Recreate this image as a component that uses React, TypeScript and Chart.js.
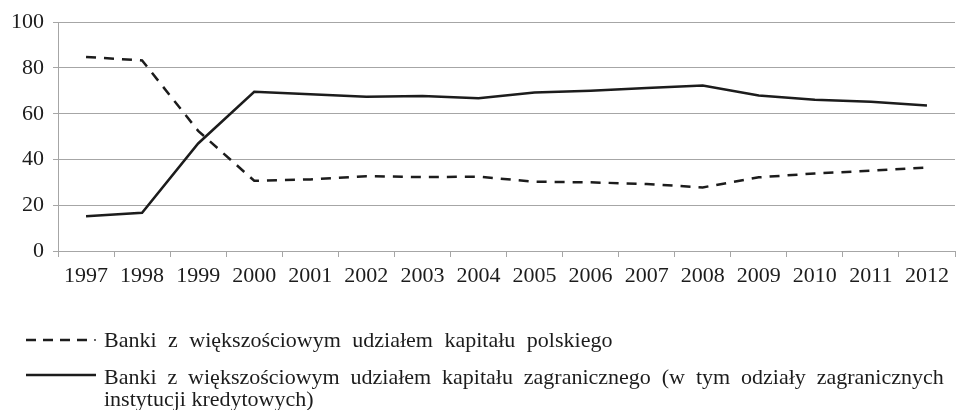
import React, { useEffect, useRef } from "react";
import { Chart, registerables } from "chart.js";

Chart.register(...registerables);

const years = ["1997","1998","1999","2000","2001","2002","2003","2004","2005","2006","2007","2008","2009","2010","2011","2012"];
const polishCapital = [84.8, 83.3, 52.5, 30.7, 31.3, 32.7, 32.3, 32.5, 30.3, 30.0, 29.3, 27.8, 32.2, 33.9, 35.1, 36.5];
const foreignCapital = [15.2, 16.7, 47.0, 69.6, 68.5, 67.4, 67.7, 66.8, 69.3, 70.0, 71.2, 72.3, 68.0, 66.1, 65.2, 63.6];
const yTicks = [0, 20, 40, 60, 80, 100];
const legendPolish = "Banki z większościowym udziałem kapitału polskiego";
const legendForeign1 = "Banki z większościowym udziałem kapitału zagranicznego (w tym odziały zagranicznych";
const legendForeign2 = "instytucji kredytowych)";

const FONT = "'Liberation Serif', 'Times New Roman', serif";
const INK = "#1c1c1c";

export default function App() {
  const ref = useRef<HTMLCanvasElement | null>(null);
  useEffect(() => {
    if (!ref.current) return;
    const chart = new Chart(ref.current, {
      type: "line",
      data: {
        labels: years,
        datasets: [
          {
            label: legendPolish,
            data: polishCapital,
            borderColor: INK,
            borderWidth: 2.5,
            borderDash: [10, 8],
            pointRadius: 0,
            tension: 0,
            fill: false,
          },
          {
            label: legendForeign1,
            data: foreignCapital,
            borderColor: INK,
            borderWidth: 2.5,
            pointRadius: 0,
            tension: 0,
            fill: false,
          },
        ],
      },
      options: {
        animation: false,
        responsive: false,
        maintainAspectRatio: false,
        layout: { autoPadding: false, padding: { top: 21, right: 2, left: 0, bottom: 0 } } as any,
        plugins: { legend: { display: false }, tooltip: { enabled: false } },
        scales: {
          x: {
            offset: true,
            grid: { offset: true, drawOnChartArea: false, drawTicks: true, tickLength: 6, color: "#a6a6a6" },
            border: { color: "#a6a6a6", width: 1 },
            ticks: { color: INK, font: { family: FONT, size: 22 }, padding: 6, maxRotation: 0, autoSkip: false },
            afterFit: (s: any) => { s.height = 300 - 251; },
          },
          y: {
            min: 0,
            max: 100,
            afterBuildTicks: (s: any) => { s.ticks = yTicks.map((v) => ({ value: v })); },
            grid: { color: "#a6a6a6", lineWidth: 1, drawTicks: true, tickLength: 5 },
            border: { color: "#a6a6a6", width: 1 },
            ticks: { color: INK, font: { family: FONT, size: 22 }, padding: 9 },
            afterFit: (s: any) => { s.width = 58; },
          },
        },
      },
    });
    return () => chart.destroy();
  }, []);

  const textStyle: React.CSSProperties = {
    position: "absolute",
    left: 104,
    fontFamily: FONT,
    fontSize: 22,
    color: INK,
    whiteSpace: "nowrap",
    lineHeight: "22px",
  };

  return (
    <div style={{ position: "fixed", left: 0, top: 0, width: 957, height: 410, background: "#fff", overflow: "hidden" }}>
      <canvas ref={ref} width={957} height={300} style={{ position: "absolute", left: 0, top: 0, width: 957, height: 300 }} />
      <svg width={110} height={410} style={{ position: "absolute", left: 0, top: 0 }}>
        <line x1={26} y1={340} x2={88} y2={340} stroke={INK} strokeWidth={2.5} strokeDasharray="10 7" />
        <circle cx={95} cy={340} r={0.9} fill={INK} />
        <line x1={26} y1={375} x2={96} y2={375} stroke={INK} strokeWidth={2.5} />
      </svg>
      <div style={{ ...textStyle, top: 329, wordSpacing: 6 }}>{legendPolish}</div>
      <div style={{ ...textStyle, top: 366, wordSpacing: 5.4 }}>{legendForeign1}</div>
      <div style={{ ...textStyle, top: 388 }}>{legendForeign2}</div>
    </div>
  );
}
